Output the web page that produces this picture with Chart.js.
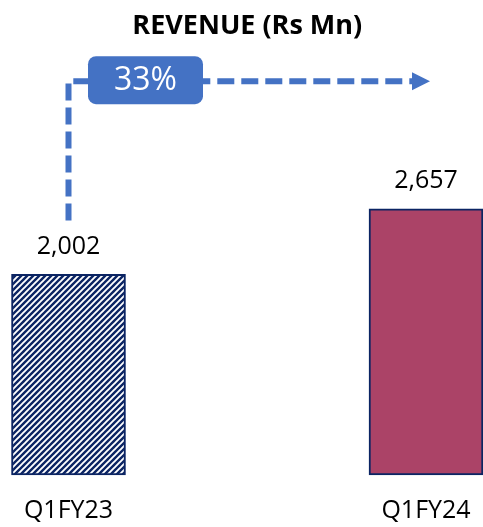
<!DOCTYPE html>
<html>
<head>
<meta charset="utf-8">
<script src="https://cdn.jsdelivr.net/npm/chart.js@4.4.1/dist/chart.umd.min.js"></script>
<style>
  html, body { margin: 0; padding: 0; background: #ffffff; }
  #wrap { width: 483px; height: 527px; position: relative; }
</style>
</head>
<body>
<div id="wrap"><canvas id="c" width="483" height="527"></canvas></div>
<script>
// ---- data ----
const categories = ['Q1FY23', 'Q1FY24'];
const revenue = [2002, 2657];
const valueLabels = ['2,002', '2,657'];
const growthLabel = '33%';
const chartTitle = 'REVENUE (Rs Mn)';

// ---- styles ----
const NAVY = '#0b2463';
const CRIMSON = '#ab4367';
const ARROW = '#4472c4';
const FONT = "'Open Sans', 'Liberation Sans', sans-serif";

function hatchPattern() {
  const s = 6;
  const c = document.createElement('canvas');
  c.width = s; c.height = s;
  const x = c.getContext('2d');
  x.fillStyle = NAVY;
  x.fillRect(0, 0, s, s);
  x.strokeStyle = '#ffffff';
  x.lineWidth = 1.9;
  x.beginPath();
  x.moveTo(-1, s + 1); x.lineTo(s + 1, -1);
  x.moveTo(-1, 1); x.lineTo(1, -1);
  x.moveTo(s - 1, s + 1); x.lineTo(s + 1, s - 1);
  x.stroke();
  return x.createPattern(c, 'repeat');
}

const ctx = document.getElementById('c').getContext('2d');
const pattern = hatchPattern();

const annotate = {
  id: 'annotate',
  afterDatasetsDraw(chart) {
    const g = chart.ctx;
    const meta = chart.getDatasetMeta(0);
    const b0 = meta.data[0], b1 = meta.data[1];
    g.save();
    // value labels above bars
    g.fillStyle = '#000000';
    g.font = '25px ' + FONT;
    g.textAlign = 'center';
    g.textBaseline = 'middle';
    meta.data.forEach((b, i) => {
      g.fillText(valueLabels[i], b.x, b.y - 28);
    });
    // dashed elbow arrow
    const lineY = chart.chartArea.top + 7;
    const tipX = b1.x + 4;
    g.strokeStyle = ARROW;
    g.lineWidth = 6;
    g.setLineDash([17, 7]);
    g.lineCap = 'butt';
    g.beginPath();
    g.moveTo(b0.x, b0.y - 54);
    g.lineTo(b0.x, lineY);
    g.lineTo(tipX - 18, lineY);
    g.stroke();
    g.setLineDash([]);
    g.fillStyle = ARROW;
    g.beginPath();
    g.moveTo(tipX - 18, lineY - 9);
    g.lineTo(tipX, lineY);
    g.lineTo(tipX - 18, lineY + 9);
    g.closePath();
    g.fill();
    // growth box
    const bx = 88, bw = 115, bh = 48, by = lineY - 25;
    g.beginPath();
    g.roundRect(bx, by, bw, bh, 8);
    g.fill();
    g.fillStyle = '#ffffff';
    g.font = '32px ' + FONT;
    g.fillText(growthLabel, bx + bw / 2, by + bh / 2 + 1);
    g.restore();
  }
};

Chart.defaults.font.family = FONT;

new Chart(ctx, {
  type: 'bar',
  data: {
    labels: categories,
    datasets: [{
      data: revenue,
      backgroundColor: [pattern, CRIMSON],
      borderColor: NAVY,
      borderWidth: 2,
      borderSkipped: false,
      barThickness: 114,
      clip: false
    }]
  },
  options: {
    responsive: false,
    animation: false,
    layout: { padding: { left: 68.5, right: 57, top: 0, bottom: 2 } },
    plugins: {
      legend: { display: false },
      tooltip: { enabled: false },
      title: {
        display: true,
        text: chartTitle,
        color: '#000000',
        font: { size: 27, weight: 'bold', family: FONT },
        padding: { top: 10, bottom: 31.8 }
      }
    },
    scales: {
      x: {
        offset: false,
        grid: { display: false, drawTicks: false },
        border: { display: false },
        ticks: { color: '#000000', font: { size: 25 }, padding: 21 },
        afterFit(scale) {
          scale.height = 50;
          scale.paddingLeft = 0;
          scale.paddingRight = 0;
        }
      },
      y: {
        display: false,
        min: 0,
        max: 4000
      }
    }
  },
  plugins: [annotate]
});
</script>
</body>
</html>
